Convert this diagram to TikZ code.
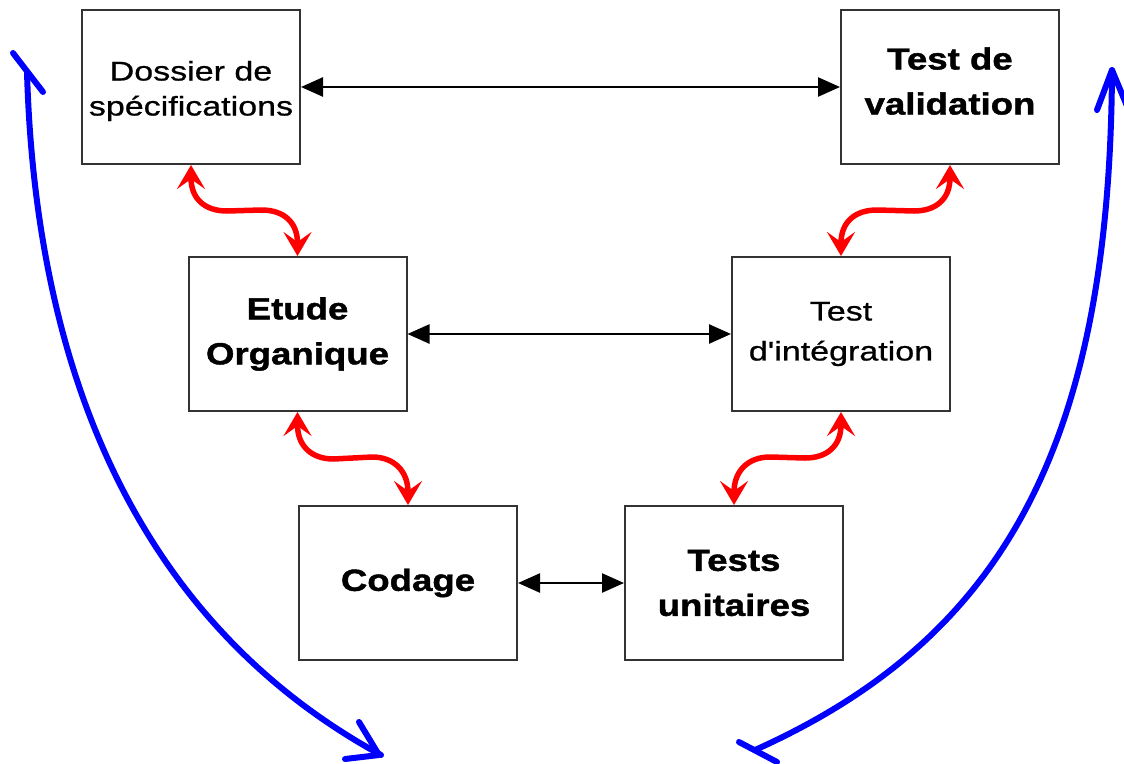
\documentclass[tikz,border=0pt]{standalone}
\usepackage{fontspec}
\newfontfamily\boxfont[FakeStretch=1.26,FakeBold=0.8,Ligatures=TeXOff]{Liberation Sans}
\newfontfamily\boxbold[FakeStretch=1.2,FakeBold=1.4,Ligatures=TeXOff,UprightFont={* Bold}]{Liberation Sans}
\usetikzlibrary{arrows.meta,calc}
% several centred lines, moved up by #1 while keeping their original extent
\newcommand\raisedlines[2]{\raisebox{#1}[\height][\depth]{\begin{tabular}{@{}c@{}}#2\end{tabular}}}

\begin{document}
\begin{tikzpicture}[x=1pt,y=-1pt,
  box/.style={draw=black!80, line width=2pt, fill=white,
    minimum width=218pt, minimum height=154pt, inner sep=0pt, align=center},
  bigtext/.style={font=\boxbold\fontsize{30.5}{45}\selectfont},
  smalltext/.style={font=\boxfont\fontsize{27}{35}\selectfont},
  link/.style={line width=2.5pt,
    {Triangle[length=22pt,width=19pt]}-{Triangle[length=22pt,width=19pt]}},
  feedback/.style={red, line width=5.5pt, line join=round,
    {Stealth[length=24pt,width=28pt,inset=10pt]}-{Stealth[length=24pt,width=28pt,inset=10pt]}},
  cycleline/.style={blue, line width=6pt, line cap=round, line join=round}]

\useasboundingbox[fill=white] (0,0) rectangle (1124,763);

% the six phases
\node[box,smalltext] (spec)   at (191,87)  {\raisedlines{-4pt}{Dossier de\\spécifications}};
\node[box,bigtext]   (valid)  at (950,87)  {\raisedlines{4pt}{Test de\\validation}};
\node[box,bigtext]   (etude)  at (297.5,334) {Etude\\Organique};
\node[box,font=\boxfont\fontsize{27}{40}\selectfont] (integ) at (841,334) {Test\\d'intégration};
\node[box,bigtext]   (codage) at (408,583) {Codage};
\node[box,bigtext]   (unit)   at (734,583) {Tests\\unitaires};

% correspondence between design and test levels
\draw[link] (spec) -- (valid);
\draw[link] (etude) -- (integ);
\draw[link] (codage) -- (unit);

% descending branch
\draw[feedback] (spec.south) .. controls +(0,34) and +(-22,0) .. ++(36,46)
  -- ($(etude.north)+(-36,-46)$) .. controls +(22,0) and +(0,-34) .. (etude.north);
\draw[feedback] (etude.south) .. controls +(0,34) and +(-22,0) .. ++(36,47)
  -- ($(codage.north)+(-36,-48)$) .. controls +(22,0) and +(0,-34) .. (codage.north);

% ascending branch
\draw[feedback] (unit.north) .. controls +(0,-34) and +(-22,0) .. ++(36,-48)
  -- ($(integ.south)+(-36,46)$) .. controls +(22,0) and +(0,34) .. (integ.south);
\draw[feedback] (integ.north) .. controls +(0,-34) and +(-22,0) .. ++(36,-46)
  -- ($(valid.south)+(-36,46)$) .. controls +(22,0) and +(0,34) .. (valid.south);

% overall cycle arrows
\coordinate (ltop) at (27,72);
\coordinate (lbot) at (381,755);
\coordinate (rtop) at (1112,70);
\coordinate (rbot) at (755,750);
\draw[cycleline] (ltop) .. controls (37,420) and (170,640) .. (lbot);
\draw[cycleline] ($(ltop)+(-14,-19)$) -- ($(ltop)+(16,20)$);
\draw[cycleline] ($(lbot)+(-22,-33)$) -- ($(lbot)+(-2,0)$) -- ($(lbot)+(-36,4)$);
\draw[cycleline] (rtop) .. controls (1110,450) and (1000,640) .. (rbot);
\draw[cycleline] ($(rtop)+(-15,40)$) -- (rtop) -- ($(rtop)+(15,36)$);
\draw[cycleline] ($(rbot)+(-16,-8)$) -- ($(rbot)+(22,12)$);
\end{tikzpicture}
\end{document}
